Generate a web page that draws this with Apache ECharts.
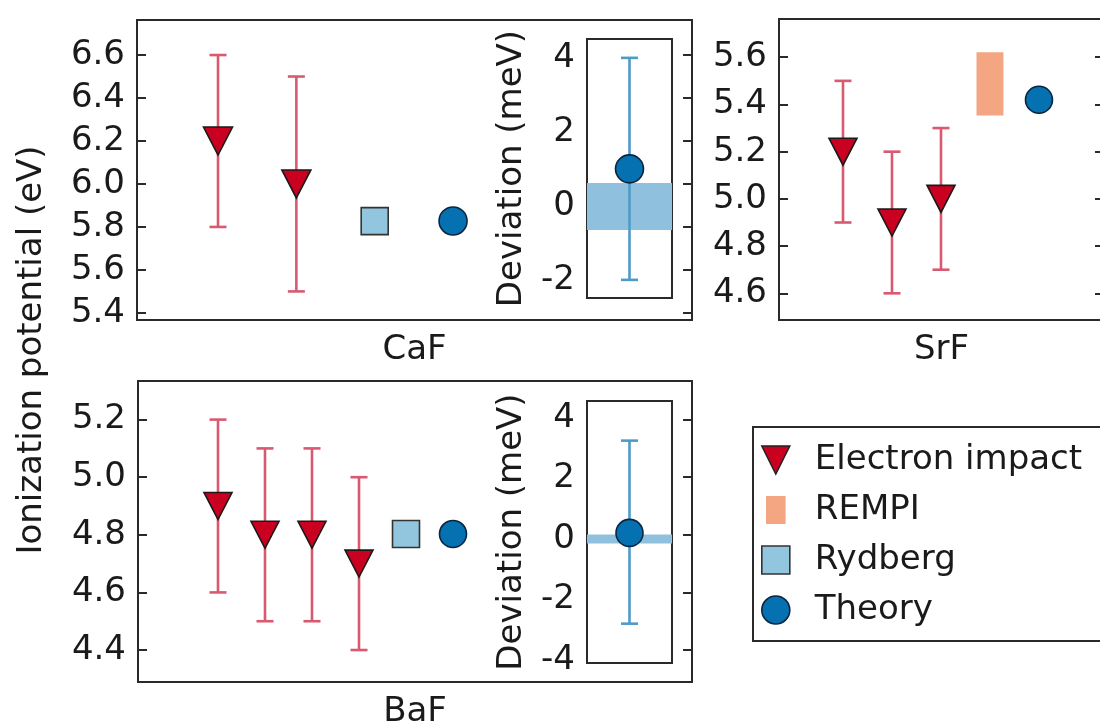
<!DOCTYPE html>
<html>
<head>
<meta charset="utf-8">
<script src="https://cdn.jsdelivr.net/npm/echarts@6/dist/echarts.min.js"></script>
<style>
html,body{margin:0;padding:0;background:#fff;}
#chart{width:1100px;height:727px;}
</style>
</head>
<body>
<div id="chart"></div>
<script>
// ---------------- DATA ----------------
// CaF main panel
const cafEiX = [1, 2];
const cafEiY = [6.2, 6.0];
const cafEiLo = [5.8, 5.5];
const cafEiHi = [6.6, 6.5];
const cafRydX = [3];
const cafRydY = [5.827];
const cafThX = [4];
const cafThY = [5.828];
// CaF deviation inset
const cafDevY = [1.0];
const cafDevLo = [-2.0];
const cafDevHi = [4.0];
const cafDevBand = [-0.65, 0.62];

// SrF panel
const srfEiX = [1, 2, 3];
const srfEiY = [5.2, 4.9, 5.0];
const srfEiLo = [4.9, 4.6, 4.7];
const srfEiHi = [5.5, 5.2, 5.3];
const srfRempiX = [4];
const srfRempiLo = [5.353];
const srfRempiHi = [5.621];
const srfThX = [5];
const srfThY = [5.42];

// BaF main panel
const bafEiX = [1, 2, 3, 4];
const bafEiY = [4.9, 4.8, 4.8, 4.7];
const bafEiLo = [4.6, 4.5, 4.5, 4.4];
const bafEiHi = [5.2, 5.1, 5.1, 5.0];
const bafRydX = [5];
const bafRydY = [4.803];
const bafThX = [6];
const bafThY = [4.803];
// BaF deviation inset
const bafDevY = [0.2];
const bafDevLo = [-2.8];
const bafDevHi = [3.25];
const bafDevBand = [-0.15, 0.15];

// tick labels
const cafTicks = [5.4, 5.6, 5.8, 6.0, 6.2, 6.4, 6.6];
const srfTicks = [4.6, 4.8, 5.0, 5.2, 5.4, 5.6];
const bafTicks = [4.4, 4.6, 4.8, 5.0, 5.2];
const cafDevLabels = [-2, 0, 2, 4];
const cafDevTickVals = [-2, -1, 0, 1, 2, 3, 4];
const bafDevLabels = [-4, -2, 0, 2, 4];
const bafDevTickVals = [-4, -3, -2, -1, 0, 1, 2, 3, 4];

const panelNames = ['CaF', 'SrF', 'BaF'];
const legendNames = ['Electron impact', 'REMPI', 'Rydberg', 'Theory'];
const yTitle = 'Ionization potential (eV)';
const devTitle = 'Deviation (meV)';

// ---------------- STYLE ----------------
const FONT = 'DejaVu Sans';
const FS = 34;
const TXT = '#1a1a1a';
const FRAME = '#2a2a2a';
const C_EI = '#ca0020', C_EI_ERR = '#d95a70';
const C_REMPI = '#f4a582';
const C_RYD = '#92c5de';
const C_TH = '#0571b0', C_TH_ERR = '#4f9bc8';
const C_BAND = '#8fc1de';
const REMPI_WIDTH = 0.55;
const TRI = 'path://M0,0 L10,0 L5,10 Z';

const chart = echarts.init(document.getElementById('chart'), null, {renderer: 'canvas'});

function yAxis(grid, min, max, ticks, pos, labels, fmt, tickVals) {
  return {
    type: 'value', gridIndex: grid, min: min, max: max, position: pos,
    axisLine: {show: false, onZero: false},
    splitLine: {show: false},
    axisTick: {show: true, inside: true, length: 9, customValues: tickVals || ticks,
      lineStyle: {color: FRAME, width: 2}},
    axisLabel: {show: labels, customValues: ticks, formatter: fmt,
      fontSize: FS, color: TXT, fontFamily: FONT, margin: 12}
  };
}
function xAxis(grid, min, max, name) {
  return {
    type: 'value', gridIndex: grid, min: min, max: max,
    axisLine: {show: false, onZero: false}, axisTick: {show: false}, axisLabel: {show: false},
    splitLine: {show: false},
    name: name || '', nameLocation: 'middle', nameGap: 13,
    nameTextStyle: {fontSize: FS, color: TXT, fontFamily: FONT}
  };
}
const f1 = v => Number(v).toFixed(1);
const f0 = v => String(Math.round(v));

function errRender(params, api) {
  const x = api.value(0), lo = api.value(1), hi = api.value(2);
  const a = api.coord([x, lo]), b = api.coord([x, hi]);
  const c = 8.5;
  const st = {stroke: api.visual('color'), lineWidth: 2.6};
  return {type: 'group', children: [
    {type: 'line', shape: {x1: a[0], y1: a[1], x2: b[0], y2: b[1]}, style: st},
    {type: 'line', shape: {x1: a[0] - c, y1: a[1], x2: a[0] + c, y2: a[1]}, style: st},
    {type: 'line', shape: {x1: b[0] - c, y1: b[1], x2: b[0] + c, y2: b[1]}, style: st}
  ]};
}
function bandRender(params, api) {
  const lo = api.value(0), hi = api.value(1);
  const cs = params.coordSys;
  const yt = api.coord([0, hi])[1], yb = api.coord([0, lo])[1];
  return {type: 'rect', shape: {x: cs.x, y: yt, width: cs.width, height: yb - yt},
    style: {fill: api.visual('color')}};
}
function rectRender(params, api) {
  const x = api.value(0), lo = api.value(1), hi = api.value(2);
  const t = api.coord([x, hi]), b = api.coord([x, lo]);
  const w = api.size([REMPI_WIDTH, 0])[0];
  return {type: 'rect', shape: {x: t[0] - w / 2, y: t[1], width: w, height: b[1] - t[1]},
    style: {fill: api.visual('color')}};
}
const zip = (...arrs) => arrs[0].map((_, i) => arrs.map(a => a[i]));

function errSeries(xi, yi, data, color) {
  return {type: 'custom', name: 'err', xAxisIndex: xi, yAxisIndex: yi, z: 2,
    itemStyle: {color: color}, renderItem: errRender, data: data, silent: true};
}
function markSeries(name, xi, yi, data, symbol, size, color, border) {
  return {type: 'scatter', name: name, xAxisIndex: xi, yAxisIndex: yi, z: 4,
    symbol: symbol, symbolSize: size,
    itemStyle: {color: color, borderColor: border, borderWidth: 1.6, opacity: 1},
    data: data, silent: true};
}

const gridBase = {show: true, borderColor: FRAME, borderWidth: 2, backgroundColor: 'transparent',
  containLabel: false, outerBoundsMode: 'none'};

const option = {
  animation: false,
  textStyle: {fontFamily: FONT},
  grid: [
    Object.assign({left: 137, top: 20, width: 555, height: 300}, gridBase),
    Object.assign({left: 587, top: 39, width: 85, height: 259, z: 1}, gridBase, {backgroundColor: '#fff'}),
    Object.assign({left: 779, top: 19, width: 325, height: 301}, gridBase),
    Object.assign({left: 138, top: 381, width: 554, height: 301}, gridBase),
    Object.assign({left: 587, top: 401, width: 85, height: 262, z: 1}, gridBase, {backgroundColor: '#fff'})
  ],
  xAxis: [
    xAxis(0, -0.034, 7.05, panelNames[0]),
    xAxis(1, -1, 1),
    xAxis(2, -0.306, 6.327, panelNames[1]),
    xAxis(3, -0.702, 11.085, panelNames[2]),
    xAxis(4, -1, 1)
  ],
  yAxis: [
    yAxis(0, 5.367, 6.763, cafTicks, 'left', true, f1),
    yAxis(0, 5.367, 6.763, cafTicks, 'right', false, f1),
    Object.assign(yAxis(1, -2.49, 4.51, cafDevLabels, 'left', true, f0, cafDevTickVals),
      {name: devTitle, nameLocation: 'middle', nameGap: 58,
       nameTextStyle: {fontSize: FS, color: TXT, fontFamily: FONT}}),
    yAxis(1, -2.49, 4.51, cafDevLabels, 'right', false, f0, cafDevTickVals),
    yAxis(2, 4.487, 5.762, srfTicks, 'left', true, f1),
    yAxis(2, 4.487, 5.762, srfTicks, 'right', false, f1),
    yAxis(3, 4.289, 5.334, bafTicks, 'left', true, f1),
    yAxis(3, 4.289, 5.334, bafTicks, 'right', false, f1),
    Object.assign(yAxis(4, -4.1, 4.56, bafDevLabels, 'left', true, f0, bafDevTickVals),
      {name: devTitle, nameLocation: 'middle', nameGap: 58,
       nameTextStyle: {fontSize: FS, color: TXT, fontFamily: FONT}}),
    yAxis(4, -4.1, 4.56, bafDevLabels, 'right', false, f0, bafDevTickVals)
  ],
  legend: {
    orient: 'vertical', left: 753, top: 427,
    padding: [16, 30, 14, 8], itemGap: 16, itemWidth: 28, itemHeight: 28,
    borderColor: FRAME, borderWidth: 2, borderRadius: 0, backgroundColor: '#fff',
    textStyle: {fontSize: FS, color: TXT, fontFamily: FONT, lineHeight: 34, padding: [0, 0, 0, 20]},
    selectedMode: false,
    data: [
      {name: legendNames[0], icon: TRI, itemStyle: {color: C_EI, borderColor: '#222', borderWidth: 1.5}},
      {name: legendNames[1], icon: 'path://M0,0 L7,0 L7,10 L0,10 Z', itemStyle: {color: C_REMPI, borderWidth: 0}},
      {name: legendNames[2], icon: 'rect', itemStyle: {color: C_RYD, borderColor: '#333', borderWidth: 1.6}},
      {name: legendNames[3], icon: 'circle', itemStyle: {color: C_TH, borderColor: '#0a2540', borderWidth: 1.6}}
    ]
  },
  graphic: [
    {type: 'text', x: 32, y: 350, rotation: Math.PI / 2,
     style: {text: yTitle, fontSize: FS, fill: TXT, fontFamily: FONT, align: 'center', verticalAlign: 'middle'}}
  ],
  series: [
    // CaF main
    errSeries(0, 0, zip(cafEiX, cafEiLo, cafEiHi), C_EI_ERR),
    markSeries(legendNames[0], 0, 0, zip(cafEiX, cafEiY), TRI, [29, 28], C_EI, '#1a1a1a'),
    markSeries(legendNames[2], 0, 0, zip(cafRydX, cafRydY), 'rect', 27, C_RYD, '#333'),
    markSeries(legendNames[3], 0, 0, zip(cafThX, cafThY), 'circle', 28, C_TH, '#0a2540'),
    // CaF inset
    {type: 'custom', name: 'band', xAxisIndex: 1, yAxisIndex: 2, z: 1, itemStyle: {color: C_BAND},
     renderItem: bandRender, data: [cafDevBand], silent: true},
    errSeries(1, 2, zip([0], cafDevLo, cafDevHi), C_TH_ERR),
    markSeries(legendNames[3], 1, 2, zip([0], cafDevY), 'circle', 28, C_TH, '#0a2540'),
    // SrF
    errSeries(2, 4, zip(srfEiX, srfEiLo, srfEiHi), C_EI_ERR),
    markSeries(legendNames[0], 2, 4, zip(srfEiX, srfEiY), TRI, [28, 27], C_EI, '#1a1a1a'),
    {type: 'custom', name: legendNames[1], xAxisIndex: 2, yAxisIndex: 4, z: 2, itemStyle: {color: C_REMPI},
     renderItem: rectRender, data: zip(srfRempiX, srfRempiLo, srfRempiHi), silent: true},
    markSeries(legendNames[3], 2, 4, zip(srfThX, srfThY), 'circle', 27, C_TH, '#0a2540'),
    // BaF main
    errSeries(3, 6, zip(bafEiX, bafEiLo, bafEiHi), C_EI_ERR),
    markSeries(legendNames[0], 3, 6, zip(bafEiX, bafEiY), TRI, [28, 27], C_EI, '#1a1a1a'),
    markSeries(legendNames[2], 3, 6, zip(bafRydX, bafRydY), 'rect', 27, C_RYD, '#333'),
    markSeries(legendNames[3], 3, 6, zip(bafThX, bafThY), 'circle', 27, C_TH, '#0a2540'),
    // BaF inset
    {type: 'custom', name: 'band', xAxisIndex: 4, yAxisIndex: 8, z: 1, itemStyle: {color: C_BAND},
     renderItem: bandRender, data: [bafDevBand], silent: true},
    errSeries(4, 8, zip([0], bafDevLo, bafDevHi), C_TH_ERR),
    markSeries(legendNames[3], 4, 8, zip([0], bafDevY), 'circle', 27, C_TH, '#0a2540')
  ]
};
chart.setOption(option);
</script>
</body>
</html>
